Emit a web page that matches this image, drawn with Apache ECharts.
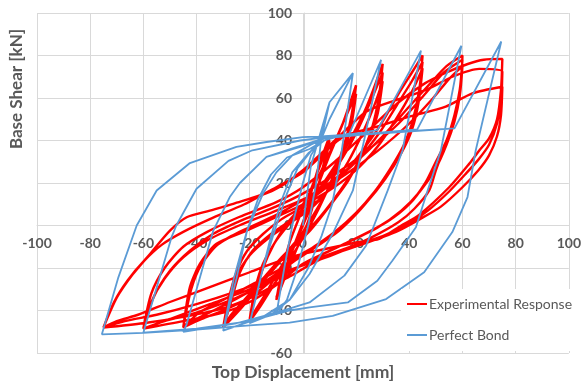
<!DOCTYPE html>
<html>
<head>
<meta charset="utf-8">
<script src="https://cdn.jsdelivr.net/npm/echarts@6/dist/echarts.min.js"></script>
<style>
html,body{margin:0;padding:0;background:#fff;}
#chart{width:584px;height:388px;}
</style>
</head>
<body>
<div id="chart"></div>
<script>
// ---- axis ticks / labels ----
const xTicks = [-100, -80, -60, -40, -20, 0, 20, 40, 60, 80, 100];
const yTicks = [-60, -40, -20, 0, 20, 40, 60, 80, 100];
const seriesNames = ['Experimental Response', 'Perfect Bond'];
const xTitle = 'Top Displacement [mm]';
const yTitle = 'Base Shear [kN]';

// ---- Experimental response (displacement mm, shear kN), cycle by cycle ----
const exp10 = [[0,0],[3,15],[6,28],[10,42],[8,30],[5,15],[2,2],[-2,-10],[-6,-22],[-10,-35],
  [-8,-22],[-5,-8],[-1,5],[3,17],[7,30],[10,40],[8,28],[4,12],[0,0],[-4,-12],[-7,-24],[-10,-34]];
const exp20 = [[-6,-18],[-2,-5],[2,8],[6,20],[10,33],[15,48],[20,66],[18,50],[15,36],[11,22],[6,8],[0,-6],[-6,-18],[-12,-30],[-16,-38],[-20,-45],
  [-18,-32],[-15,-20],[-11,-9],[-6,1],[0,10],[5,21],[10,34],[15,48],[20,62],[18,46],[14,30],[9,16],[3,3],[-3,-9],[-9,-21],[-14,-32],[-20,-44]];
const exp30 = [[-18,-30],[-15,-18],[-10,-7],[-5,1],[0,8],[6,17],[12,28],[18,41],[24,56],[30,76],
  [28.5,60],[26,46],[22,33],[17,21],[10,9],[3,-2],[-5,-12],[-12,-22],[-19,-32],[-25,-40],[-30,-48],
  [-28,-35],[-25,-22],[-21,-12],[-15,-4],[-8,3],[0,9],[8,19],[15,32],[21,46],[26,60],[30,72],
  [28.5,56],[25,42],[21,30],[15,18],[8,6],[0,-5],[-8,-15],[-15,-25],[-22,-35],[-27,-42],[-30,-48],
  [-28,-36],[-25,-24],[-20,-14],[-13,-6],[-5,1],[3,8],[10,17],[17,30],[23,45],[27,57],[30,68],
  [28,52],[24,38],[19,26],[12,13],[5,2],[-3,-8],[-11,-20],[-18,-31],[-24,-40],[-30,-48]];
const exp45 = [[-27,-36],[-24,-23],[-19,-12],[-12,-4],[-4,3],[5,11],[13,21],[21,33],[29,47],[36,62],[41,72],[45,80],
  [44,66],[42,52],[39,41],[35,30],[29,19],[22,8],[14,-2],[5,-10],[-5,-18],[-18,-27],[-30,-35],[-39,-41],[-45,-48],
  [-42.5,-29],[-38.7,-18],[-32.5,-8.6],[-21.2,-2.4],[-10,4],[0,10],[10,19],[20,30],[29,44],[36,58],[41,68],[45,77],
  [43.5,62],[41,48],[38,38],[33,27],[27,16],[20,6],[12,-3],[3,-11],[-8,-21],[-20,-31],[-32,-39],[-40,-44],[-45,-48],
  [-43,-33],[-40,-21],[-35,-12],[-27,-5],[-15,2],[-3,8],[8,15],[19,25],[28,37],[35,50],[41,63],[45,74],
  [43.5,58],[41,45],[37,34],[31,22],[24,11],[16,1],[7,-8],[-4,-16],[-12,-26],[-20,-34],[-30,-40],[-38,-44],[-45,-48]];
const exp60 = [[-42,-30],[-38,-18],[-32,-9],[-22,-2],[-10,5],[0,12],[10,20],[20,30],[30,42],[40,56],[48,67],[54,75],[60,80],
  [59.5,68],[58,57],[56,46],[53,36],[50,26],[47.5,16.5],[42,8],[36,1.6],[26,-5.5],[11,-14],[-5,-21],[-20,-30],[-35,-37],[-50,-44],[-60,-48.5],
  [-56.2,-33.9],[-50,-21.3],[-42.5,-11.8],[-33.7,-3.9],[-22,3],[-10,9],[0,15],[12,24],[24,35],[36,48],[46,62],[53,72],[60,78],
  [59,64],[57,52],[54,40],[50,30],[46,20],[40,10],[32,2],[20,-6],[5,-15],[-10,-25],[-25,-34],[-40,-41],[-52,-45],[-60,-48.5],
  [-57,-36],[-52,-25],[-45,-15],[-36,-7],[-24,0],[-10,7],[3,14],[16,24],[28,35],[40,48],[49,60],[55,69],[60,75],
  [59,61],[57,49],[54,38],[50,27],[44,16],[37,7],[28,-1],[15,-9],[0,-18],[-10,-28],[-20,-36],[-30,-41],[-45,-45],[-60,-48.5]];
const exp75 = [[-57,-32],[-52,-20],[-45,-10],[-36,-3],[-24,4],[-10,11],[0,18],[12,30],[24,44],[36,58],[46,67],[54,72],[62,76],[68,78],[75,78.4],
  [74.5,64],[73,50],[70,41],[66.4,35.4],[62.5,29],[55,18],[43.7,5],[37,0],[28.7,-6.3],[20,-8],[5,-12],[-5,-15],[-20,-22],[-35,-29],[-50,-36],[-62,-42],[-70,-45],[-75,-48],
  [-70,-34],[-64,-23],[-57.5,-13.4],[-50,-2.4],[-43.7,3.9],[-35,7],[-26.2,10.2],[-11.2,16.5],[0,26],[12,40],[23.8,53.5],[35,59],[46.3,63.8],[56.2,70],[66.3,73.7],[75,72.4],
  [74.5,60],[73,48],[70,38],[66,31],[61,24],[55,16],[47,7],[40,1],[30,-5],[18,-10],[5,-16],[-10,-24],[-25,-31],[-40,-37],[-55,-42],[-67,-45],[-75,-48],
  [-71,-36],[-66,-26],[-60,-17],[-53,-9],[-45,-3],[-35,3],[-22,10],[-10,18],[0,25],[15,41.7],[27.5,46.4],[40,51.2],[53.7,55.9],[63.7,62.2],[75,65.3],
  [74.5,52],[73,42],[70,33],[66,26],[60,18],[52,9],[44,3],[35,-3],[22,-9],[8,-15],[-5,-24],[-18,-33],[-30,-39],[-45,-43],[-60,-46],[-75,-48]];

// ---- Perfect bond model (piecewise linear), cycle by cycle ----
const bond10 = [[0,0],[3,28],[6,41],[10,58],[7,42],[5,20],[2,0],[-2,-20],[-6,-35],[-10,-42]];
const bond20 = [[-7,-20],[-4,0],[0,20],[3,33],[7,41],[10,58],[18.8,71.7],[14,30],[11,10],[7,-5],[2,-20],[-5,-35],[-12,-42],[-20,-46],
  [-15,-20],[-10,0],[-6,15],[-2,27],[3,35],[7,41],[10,50],[18.8,71.7],[14,30],[11,10],[7,-5],[2,-20],[-5,-35],[-12,-42],[-20,-46]];
const bond30 = [[-16,-25],[-12,-5],[-8,12],[-4,25],[2,34],[8,40],[17.5,43.3],[29.4,78],[23,40],[18.8,16.5],[11.2,-3.9],[2.5,-22.8],[-5,-35],[-15,-43],[-30,-49.5],
  [-25,-25],[-21,-2.4],[-17,12],[-12,24],[-6,32],[2.5,36],[8,40],[17.5,43.3],[29.4,78],[23,40],[18.8,16.5],[11.2,-3.9],[2.5,-22.8],[-5,-35],[-15,-43],[-30,-49.5]];
const bond45 = [[-26,-25],[-21,-2.4],[-15,15],[-10,25],[-4,33],[3,38],[8,41],[28,44.9],[44.4,82.3],[37.5,35.4],[31.9,16.5],[23.8,-9.4],[15.6,-23.6],[2.5,-36.2],[-10,-41],[-25,-46],[-45,-50],
  [-43.7,-46.4],[-33.7,-2.4],[-27.5,13.4],[-23.7,20],[-13.7,32.3],[-1,37],[8,41],[28,44.9],[44.4,82.3],[37.5,35.4],[31.9,16.5],[23.8,-9.4],[15.6,-23.6],[2.5,-36.2],[-10,-41],[-25,-46],[-45,-50]];
const bond60 = [[-43.7,-46.4],[-33.7,-2.4],[-27.5,13.4],[-23.7,20],[-13.7,32.3],[-1,37.5],[8,41],[43,45.2],[59.6,84.6],[51.9,35.4],[46.9,16.5],[42.5,-0.8],[33.7,-16.5],[28,-26],[16.9,-36.2],[2.5,-38.5],[-5,-40],[-20,-45],[-40,-48.5],[-60,-50.4],
  [-49.4,-5.5],[-47.6,0],[-40,17.3],[-28,30.4],[-19,35.4],[-1,40],[8,41.5],[43,45.2],[59.6,84.6],[51.9,35.4],[46.9,16.5],[42.5,-0.8],[33.7,-16.5],[28,-26],[16.9,-36.2],[2.5,-38.5],[-5,-40],[-20,-45],[-40,-48.5],[-60,-50.4]];
const bond75 = [[-49.4,-5.5],[-47.6,0],[-40,17.3],[-28,30.4],[-19,35.4],[-1,40],[8,41.5],[57,45.7],[74.6,86.6],[65,35.4],[61.9,13.4],[56.2,-3.1],[45.6,-22],[31.3,-34.6],[11.2,-42.5],[-5,-45.7],[-20,-47],[-40,-49],[-60,-50.5],[-75.6,-51.2],
  [-69.4,-24.4],[-62.5,0],[-55,16.5],[-42.5,29.4],[-25,37],[-13.7,39.3],[0,41.6],[8,42],[57,45.7],[74.6,86.6],[65,35.4],[61.9,13.4],[56.2,-3.1],[45.6,-22],[31.3,-34.6],[11.2,-42.5],[-5,-45.7],[-20,-47],[-40,-49],[-60,-50.5],[-75.6,-51.2]];

const experimental = [].concat(exp10, exp20, exp30, exp45, exp60, exp75);
const perfectBond = [].concat(bond10, bond20, bond30, bond45, bond60, bond75);

const chart = echarts.init(document.getElementById('chart'), null, {renderer: 'canvas'});
const FONT = 'Lato';
const GREY = '#595959';
const GRID = '#d9d9d9';

// plot-area geometry (px)
const G_LEFT = 37, G_RIGHT = 13, G_TOP = 13, G_BOTTOM = 35;
const plotW = 584 - G_LEFT - G_RIGHT, plotH = 388 - G_TOP - G_BOTTOM;
const xMin = xTicks[0], xMax = xTicks[xTicks.length - 1];
const yMin = yTicks[0], yMax = yTicks[yTicks.length - 1];
// shift axes (with their labels) onto the zero lines
const yAxisOffset = -plotW * (0 - xMin) / (xMax - xMin);
const xAxisOffset = -plotH * (0 - yMin) / (yMax - yMin);

chart.setOption({
  animation: false,
  backgroundColor: '#ffffff',
  grid: {left: G_LEFT, right: G_RIGHT, top: G_TOP, bottom: G_BOTTOM, containLabel: false},
  xAxis: {
    type: 'value', min: xMin, max: xMax, interval: 20, position: 'bottom', offset: xAxisOffset,
    axisLine: {show: true, onZero: false, lineStyle: {color: GRID, width: 1}},
    axisTick: {show: false},
    axisLabel: {color: GREY, fontFamily: FONT, fontWeight: 'bold', fontSize: 14, margin: 11},
    splitLine: {show: true, lineStyle: {color: GRID, width: 1}}
  },
  yAxis: {
    type: 'value', min: yMin, max: yMax, interval: 20, position: 'left', offset: yAxisOffset,
    axisLine: {show: true, onZero: false, lineStyle: {color: GRID, width: 1}},
    axisTick: {show: false},
    axisLabel: {color: GREY, fontFamily: FONT, fontWeight: 'bold', fontSize: 14, margin: 12},
    splitLine: {show: true, lineStyle: {color: GRID, width: 1}}
  },
  legend: {
    orient: 'vertical', left: 401, top: 289,
    backgroundColor: '#ffffff', padding: [8, 4, 9, 6],
    itemGap: 17, itemWidth: 20, itemHeight: 2, icon: 'rect',
    textStyle: {color: GREY, fontFamily: FONT, fontSize: 14, padding: [0, 0, 0, -3]},
    data: seriesNames
  },
  graphic: [
    {type: 'text', x: 17, y: 89, rotation: Math.PI / 2,
     style: {text: yTitle, fill: GREY, font: 'bold 17px ' + FONT, align: 'center', verticalAlign: 'middle'}},
    {type: 'text', x: 303, y: 372,
     style: {text: xTitle, fill: GREY, font: 'bold 17.5px ' + FONT, align: 'center', verticalAlign: 'middle'}}
  ],
  series: [
    {name: seriesNames[0], type: 'line', data: experimental, showSymbol: false, symbol: 'none', smooth: 0.25,
     color: '#ff0000', lineStyle: {color: '#ff0000', width: 2.4}, z: 2},
    {name: seriesNames[1], type: 'line', data: perfectBond, showSymbol: false, symbol: 'none',
     color: '#5b9bd5', lineStyle: {color: '#5b9bd5', width: 1.8}, z: 3}
  ]
});
</script>
</body>
</html>
